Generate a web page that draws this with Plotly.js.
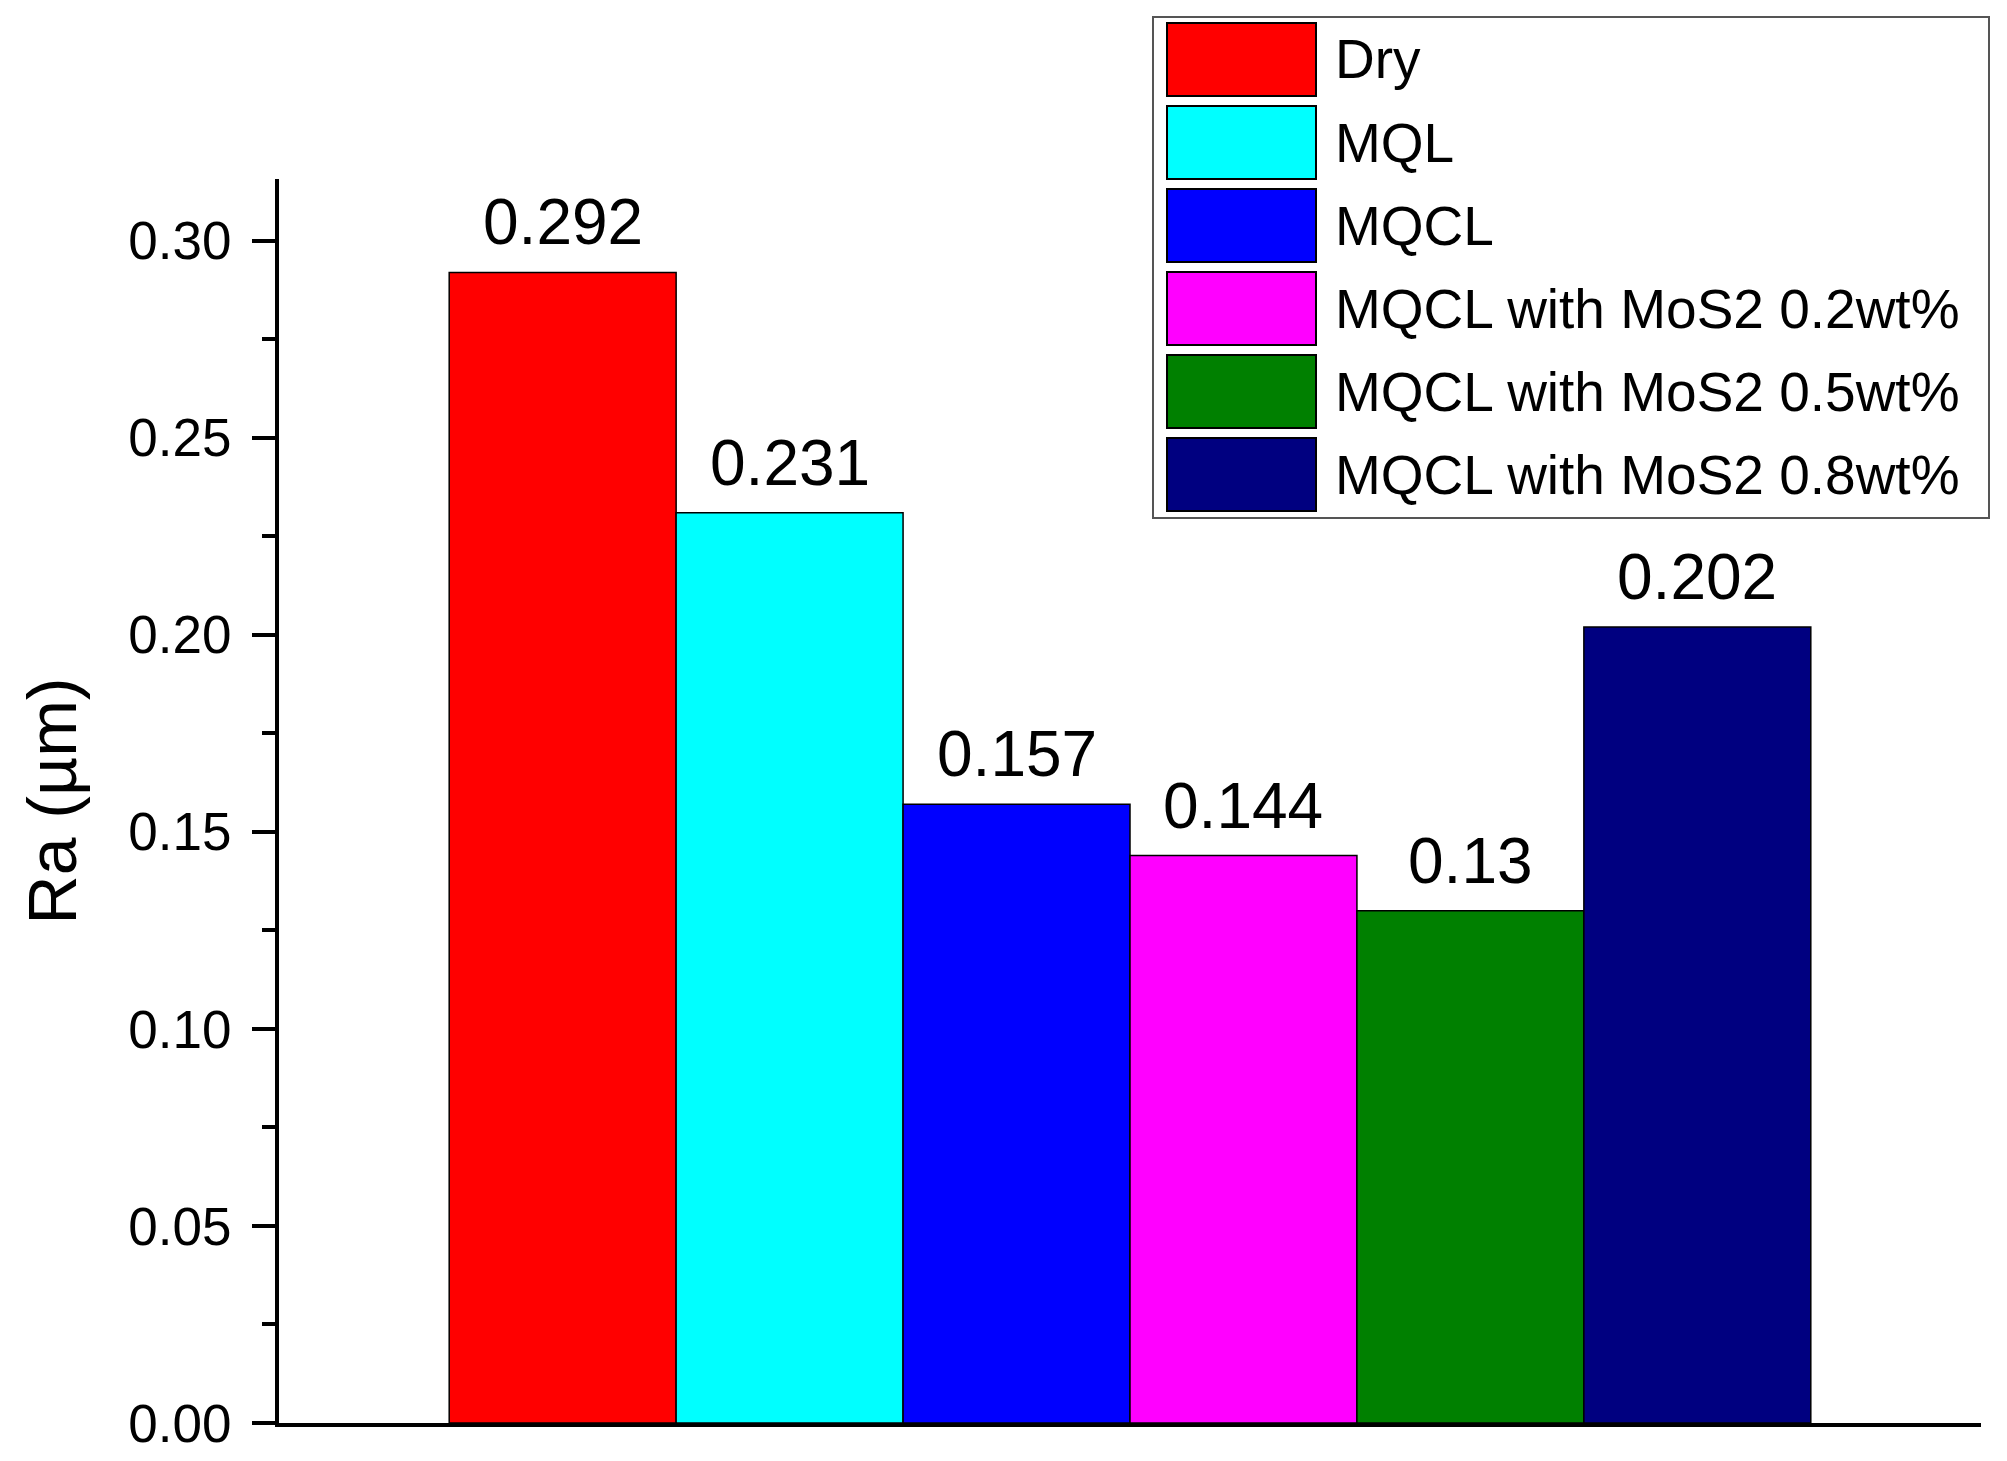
<!DOCTYPE html>
<html>
<head>
<meta charset="utf-8">
<script src="https://cdn.plot.ly/plotly-3.0.1.min.js"></script>
<style>html,body{margin:0;padding:0;background:#fff;}#chart{width:2007px;height:1461px;}</style>
</head>
<body>
<div id="chart"></div>
<script>
// ---- data ----
const categories = ["Dry", "MQL", "MQCL", "MQCL with MoS2 0.2wt%", "MQCL with MoS2 0.5wt%", "MQCL with MoS2 0.8wt%"];
const raValues = [0.292, 0.231, 0.157, 0.144, 0.13, 0.202];
const valueLabels = ["0.292", "0.231", "0.157", "0.144", "0.13", "0.202"];
const barColors = ["#FF0000", "#00FFFF", "#0000FF", "#FF00FF", "#008000", "#000080"];
const yTickVals = [0, 0.05, 0.10, 0.15, 0.20, 0.25, 0.30];
const yTickText = ["0.00", "0.05", "0.10", "0.15", "0.20", "0.25", "0.30"];

// ---- layout constants ----
const W = 2007, H = 1461;
const M = {l: 279, r: 26, t: 179, b: 38};
const PW = W - M.l - M.r, PH = H - M.t - M.b;
const xp = px => (px - M.l) / PW;
const yp = py => (H - M.b - py) / PH;
const FONT = "Liberation Sans, Arial, Helvetica, sans-serif";

const traces = categories.map((name, i) => ({
  type: "bar",
  name: name,
  x: [i],
  y: [raValues[i]],
  width: 1,
  marker: {color: barColors[i], line: {color: "#000", width: 1.5}},
  hoverinfo: "name+y",
  showlegend: false
}));

const annotations = categories.map((name, i) => ({
  x: i, y: raValues[i], xref: "x", yref: "y",
  text: valueLabels[i], showarrow: false,
  xanchor: "center", yanchor: "bottom", yshift: 12,
  font: {family: FONT, size: 64, color: "#000"}
}));

// custom legend (large swatches as in reference)
const shapes = [];
const LB = {x0: 1153, y0: 17, x1: 1989, y1: 518};
shapes.push({type: "rect", xref: "paper", yref: "paper",
  x0: xp(LB.x0), x1: xp(LB.x1), y0: yp(LB.y1), y1: yp(LB.y0),
  line: {color: "#555", width: 2}, fillcolor: "rgba(255,255,255,1)", layer: "above"});
categories.forEach((name, i) => {
  const top = 23 + i * 83, h = 73;
  shapes.push({type: "rect", xref: "paper", yref: "paper",
    x0: xp(1167), x1: xp(1316), y0: yp(top + h), y1: yp(top),
    line: {color: "#000", width: 2}, fillcolor: barColors[i], layer: "above"});
  annotations.push({xref: "paper", yref: "paper", x: xp(1333), y: yp(top + h / 2),
    text: name, showarrow: false, xanchor: "left", yanchor: "middle",
    font: {family: FONT, size: 55, color: "#000"}});
});

const layout = {
  width: W, height: H,
  margin: M,
  paper_bgcolor: "#fff", plot_bgcolor: "#fff",
  font: {family: FONT, color: "#000"},
  barmode: "overlay",
  showlegend: false,
  xaxis: {
    range: [-1.25, 6.25],
    showticklabels: false, ticks: "", showgrid: false, zeroline: false,
    showline: true, linecolor: "#000", linewidth: 4, fixedrange: true
  },
  yaxis: {
    range: [0, 0.3157],
    tickvals: yTickVals, ticktext: yTickText,
    ticks: "outside", ticklen: 23, tickwidth: 4, tickcolor: "#000",
    minor: {dtick: 0.025, tick0: 0, ticks: "outside", ticklen: 13, tickwidth: 4, tickcolor: "#000"},
    tickfont: {family: FONT, size: 53, color: "#000"},
    ticklabelstandoff: 10,
    showgrid: false, zeroline: false,
    showline: true, linecolor: "#000", linewidth: 4,
    title: {text: "Ra (µm)", font: {family: FONT, size: 68, color: "#000"}, standoff: 30},
    automargin: false
  },
  shapes: shapes,
  annotations: annotations
};

Plotly.newPlot("chart", traces, layout, {displayModeBar: false, staticPlot: true});
</script>
</body>
</html>
